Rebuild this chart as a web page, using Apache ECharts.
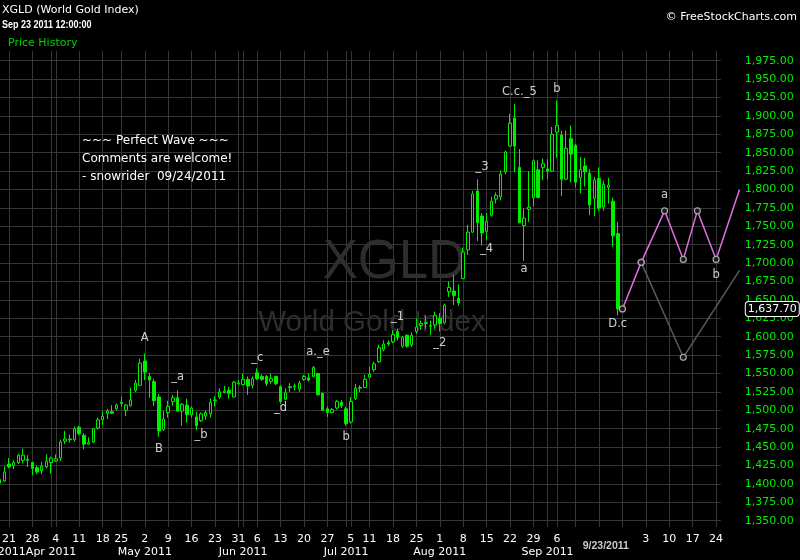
<!DOCTYPE html>
<html><head><meta charset="utf-8">
<script src="https://cdn.jsdelivr.net/npm/echarts@6/dist/echarts.min.js"></script>
<style>html,body{margin:0;padding:0;background:#000;}#c{width:800px;height:560px;}</style>
</head><body><div id="c"></div>
<script>
const tradingDays = [
'2011-03-17','2011-03-18','2011-03-21','2011-03-22','2011-03-23','2011-03-24','2011-03-25','2011-03-28','2011-03-29','2011-03-30','2011-03-31',
'2011-04-01','2011-04-04','2011-04-05','2011-04-06','2011-04-07','2011-04-08','2011-04-11','2011-04-12','2011-04-13','2011-04-14','2011-04-15','2011-04-18','2011-04-19','2011-04-20','2011-04-21','2011-04-25','2011-04-26','2011-04-27','2011-04-28','2011-04-29',
'2011-05-02','2011-05-03','2011-05-04','2011-05-05','2011-05-06','2011-05-09','2011-05-10','2011-05-11','2011-05-12','2011-05-13','2011-05-16','2011-05-17','2011-05-18','2011-05-19','2011-05-20','2011-05-23','2011-05-24','2011-05-25','2011-05-26','2011-05-27','2011-05-31',
'2011-06-01','2011-06-02','2011-06-03','2011-06-06','2011-06-07','2011-06-08','2011-06-09','2011-06-10','2011-06-13','2011-06-14','2011-06-15','2011-06-16','2011-06-17','2011-06-20','2011-06-21','2011-06-22','2011-06-23','2011-06-24','2011-06-27','2011-06-28','2011-06-29','2011-06-30',
'2011-07-01','2011-07-05','2011-07-06','2011-07-07','2011-07-08','2011-07-11','2011-07-12','2011-07-13','2011-07-14','2011-07-15','2011-07-18','2011-07-19','2011-07-20','2011-07-21','2011-07-22','2011-07-25','2011-07-26','2011-07-27','2011-07-28','2011-07-29',
'2011-08-01','2011-08-02','2011-08-03','2011-08-04','2011-08-05','2011-08-08','2011-08-09','2011-08-10','2011-08-11','2011-08-12','2011-08-15','2011-08-16','2011-08-17','2011-08-18','2011-08-19','2011-08-22','2011-08-23','2011-08-24','2011-08-25','2011-08-26','2011-08-29','2011-08-30','2011-08-31',
'2011-09-01','2011-09-02','2011-09-06','2011-09-07','2011-09-08','2011-09-09','2011-09-12','2011-09-13','2011-09-14','2011-09-15','2011-09-16','2011-09-19','2011-09-20','2011-09-21','2011-09-22','2011-09-23','2011-09-26','2011-09-27','2011-09-28','2011-09-29','2011-09-30',
'2011-10-03','2011-10-04','2011-10-05','2011-10-06','2011-10-07','2011-10-10','2011-10-11','2011-10-12','2011-10-13','2011-10-14','2011-10-17','2011-10-18','2011-10-19','2011-10-20','2011-10-21','2011-10-24','2011-10-25','2011-10-26','2011-10-27','2011-10-28','2011-10-31'
];
const axisLastDay = '2011-10-25';
const projLastDay = '2011-10-31';

// [open, close, low, high]
const candles = [
[1406,1401,1388,1408],[1404,1416,1403,1424],[1427,1423,1421,1435],[1425,1429,1420,1432],[1429,1439,1427,1441],
[1432,1439,1428,1448],[1433,1432,1423,1439],[1429,1421,1412,1430],[1422,1416,1413,1425],[1418,1424,1413,1430],
[1423,1431,1421,1440],[1429,1435,1414,1437],[1431,1434,1430,1440],[1435,1457,1431,1460],[1458,1461,1454,1472],
[1461,1460,1456,1467],[1460,1475,1457,1478],[1477,1468,1466,1479],[1466,1454,1447,1469],[1454,1456,1453,1463],
[1457,1475,1455,1476],[1476,1487,1474,1490],[1487,1492,1480,1499],[1496,1499,1488,1502],[1498,1496,1495,1507],
[1502,1507,1500,1509],[1509,1511,1505,1519],[1500,1507,1492,1509],[1506,1514,1505,1531],[1527,1537,1525,1541],
[1534,1564,1533,1570],[1567,1552,1541,1577],[1546,1541,1517,1551],[1539,1513,1506,1543],[1518,1472,1464,1522],
[1474,1488,1472,1499],[1497,1505,1490,1513],[1512,1517,1506,1521],[1517,1499,1498,1527],[1499,1508,1479,1510],
[1507,1494,1483,1516],[1494,1503,1490,1505],[1491,1479,1473,1498],[1486,1495,1484,1497],[1492,1497,1487,1500],
[1495,1511,1490,1516],[1513,1514,1505,1519],[1518,1525,1515,1530],[1524,1526,1523,1533],[1527,1523,1516,1532],
[1518,1538,1518,1540],[1536,1537,1534,1541],[1535,1542,1534,1550],[1542,1533,1521,1546],[1534,1543,1530,1546],
[1551,1543,1541,1557],[1546,1542,1540,1549],[1546,1536,1533,1548],[1539,1543,1536,1550],[1546,1536,1534,1547],
[1532,1512,1509,1534],[1515,1524,1514,1530],[1531,1532,1525,1537],[1532,1533,1527,1536],[1529,1537,1525,1540],
[1542,1546,1540,1548],[1544,1541,1539,1550],[1546,1558,1545,1560],[1550,1521,1520,1551],[1523,1500,1499,1524],
[1502,1497,1491,1505],[1497,1501,1496,1503],[1503,1512,1501,1514],[1511,1506,1503,1514],[1502,1482,1479,1505],
[1484,1512,1482,1518],[1516,1530,1514,1536],[1530,1531,1525,1534],[1531,1542,1530,1548],[1545,1549,1543,1559],
[1555,1563,1552,1566],[1566,1585,1564,1589],[1583,1590,1580,1595],[1592,1590,1587,1595],[1593,1603,1591,1609],
[1607,1599,1595,1611],[1587,1599,1585,1601],[1602,1587,1585,1603],[1589,1602,1586,1606],[1607,1613,1604,1625],
[1615,1618,1609,1622],[1619,1618,1611,1629],[1614,1615,1602,1622],[1616,1629,1611,1634],[1625,1618,1607,1632],
[1619,1643,1617,1645],[1661,1667,1654,1675],[1662,1656,1643,1684],[1652,1646,1642,1671],[1679,1715,1678,1721],
[1718,1742,1711,1752],[1742,1794,1741,1798],[1798,1755,1730,1814],[1764,1741,1724,1768],[1743,1757,1731,1768],
[1765,1784,1763,1790],[1787,1792,1781,1796],[1790,1821,1785,1826],[1824,1851,1821,1853],[1859,1890,1858,1903],
[1897,1859,1824,1916],[1830,1755,1754,1855],[1751,1761,1703,1774],[1773,1776,1756,1825],[1789,1839,1777,1841],
[1827,1789,1788,1840],[1830,1835,1813,1842],[1828,1825,1814,1841],[1825,1875,1824,1885],[1878,1887,1843,1921],
[1874,1814,1791,1880],[1814,1856,1813,1880],[1869,1848,1810,1887],[1860,1810,1803,1862],[1816,1827,1795,1844],
[1832,1824,1804,1843],[1822,1779,1765,1828],[1788,1813,1764,1817],[1815,1775,1771,1830],[1776,1807,1771,1812],
[1803,1806,1781,1816],[1784,1737,1722,1789],[1740,1637.7,1629,1756]
];

const weekLabelDays = ['2011-03-21','2011-03-28','2011-04-04','2011-04-11','2011-04-18','2011-04-25','2011-05-02','2011-05-09','2011-05-16','2011-05-23','2011-05-31','2011-06-06','2011-06-13','2011-06-20','2011-06-27','2011-07-05','2011-07-11','2011-07-18','2011-07-25','2011-08-01','2011-08-08','2011-08-15','2011-08-22','2011-08-29','2011-09-06','2011-10-03','2011-10-10','2011-10-17','2011-10-24'];
const weekGridOnlyDays = ['2011-09-12','2011-09-19','2011-09-26'];
const monthLabelDays = ['2011-03-17','2011-04-01','2011-05-02','2011-06-01','2011-07-01','2011-08-01','2011-09-01'];
const monthNames = ['Jan','Feb','Mar','Apr','May','Jun','Jul','Aug','Sep','Oct','Nov','Dec'];
const yTicks = [1350,1375,1400,1425,1450,1475,1500,1525,1550,1575,1600,1625,1650,1675,1700,1725,1750,1775,1800,1825,1850,1875,1900,1925,1950,1975];
const yMin = 1341.4, yMax = 1988.2;
const lastPrice = 1637.7;
const lastDateLabel = '9/23/2011';

const projPink = [['2011-09-26',1637.7],['2011-09-30',1701],['2011-10-07',1771],['2011-10-13',1705],['2011-10-18',1771],['2011-10-24',1705],['2011-10-31',1800]];
const projGray = [['2011-09-30',1701],['2011-10-13',1572],['2011-10-31',1690]];

const waveLabels = [
['2011-05-02',1598,'A'],['2011-05-11',1545,'_a'],['2011-05-05',1447,'B'],['2011-05-18',1466,'_b'],
['2011-06-06',1571,'_c'],['2011-06-13',1503,'_d'],['2011-06-23',1579,'a._e'],['2011-07-01',1464,'b'],
['2011-07-19',1627,'_1'],['2011-08-01',1592,'_2'],['2011-08-12',1830,'_3'],['2011-08-15',1719,'_4'],
['2011-08-25',1692,'a'],['2011-08-24',1932,'C.c._5'],['2011-09-06',1936,'b'],['2011-09-23',1617,'D.c'],
['2011-10-07',1793,'a'],['2011-10-24',1684,'b']
];

const GREEN = '#00ee00';
const GRIDC = '#363636';
const FONT = 'DejaVu Sans';
const STEP = 4.683;      // px per trading day
const LEFT = -0.4, TOP = 51, HEIGHT = 476;

const chart = echarts.init(document.getElementById('c'), null, {renderer: 'canvas'});
const weekSet = new Set(weekLabelDays);
const weekGridSet = new Set(weekLabelDays.concat(weekGridOnlyDays));
const monthSet = new Set(monthLabelDays);
const maxIdx = tradingDays.indexOf(axisLastDay);
const projMaxIdx = tradingDays.indexOf(projLastDay);

function lastNoSymbol(arr){ return arr.map((p,i)=> i===arr.length-1 ? {value:p, symbol:'none'} : {value:p}); }
const fmt2 = v => v.toLocaleString('en-US', {minimumFractionDigits: 2, maximumFractionDigits: 2});

const option = {
  backgroundColor: '#000',
  animation: false,
  textStyle: {fontFamily: FONT},
  grid: [
    {left: LEFT, top: TOP, width: STEP * maxIdx, height: HEIGHT, outerBoundsMode: 'none', containLabel: false},
    {left: LEFT, top: TOP, width: STEP * projMaxIdx, height: HEIGHT, outerBoundsMode: 'none', containLabel: false}
  ],
  xAxis: [{
    type: 'category', gridIndex: 0, data: tradingDays, boundaryGap: false, min: 0, max: maxIdx, position: 'bottom',
    axisLine: {show: false}, axisTick: {show: false},
    axisLabel: {interval: (i, v) => weekSet.has(v), formatter: v => String(parseInt(v.slice(8), 10)),
      color: '#fff', fontSize: 11, fontFamily: FONT, margin: 7},
    splitLine: {show: true, interval: (i, v) => weekGridSet.has(v), lineStyle: {color: GRIDC, width: 1}}
  },{
    type: 'category', gridIndex: 0, data: tradingDays, boundaryGap: false, min: 0, max: maxIdx, position: 'bottom',
    axisLine: {show: false}, axisTick: {show: false},
    axisLabel: {interval: (i, v) => monthSet.has(v), formatter: v => monthNames[parseInt(v.slice(5,7),10)-1] + ' ' + v.slice(0,4),
      color: '#fff', fontSize: 11, fontFamily: FONT, margin: 20},
    splitLine: {show: true, interval: (i, v) => monthSet.has(v) && i > 0, lineStyle: {color: GRIDC, width: 1}}
  },{
    type: 'category', gridIndex: 1, data: tradingDays, boundaryGap: false, min: 0, max: projMaxIdx, show: false
  }],
  yAxis: [{
    type: 'value', gridIndex: 0, position: 'right', min: yMin, max: yMax, scale: true,
    axisLine: {show: false}, axisTick: {show: false, customValues: yTicks},
    axisLabel: {customValues: yTicks, color: GREEN, fontSize: 11, fontFamily: FONT, margin: 24, formatter: fmt2},
    splitLine: {show: true, lineStyle: {color: GRIDC, width: 1}}
  },{
    type: 'value', gridIndex: 0, position: 'right', min: yMin, max: yMax, scale: true, z: 10,
    axisLine: {show: false}, axisTick: {show: false, customValues: [lastPrice]}, splitLine: {show: false},
    axisLabel: {customValues: [lastPrice], color: '#fff', fontSize: 11, fontFamily: FONT, margin: 25,
      backgroundColor: '#000', borderColor: '#fff', borderWidth: 1, borderRadius: 3, padding: [2, 2, 1, 2], formatter: fmt2}
  },{
    type: 'value', gridIndex: 1, min: yMin, max: yMax, scale: true, show: false, splitLine: {show: false}
  }],
  series: [{
    type: 'candlestick', xAxisIndex: 0, yAxisIndex: 0, data: candles, barWidth: 3,
    itemStyle: {color: '#000', color0: GREEN, borderColor: GREEN, borderColor0: GREEN, borderWidth: 1},
    emphasis: {disabled: true}
  },{
    type: 'line', xAxisIndex: 2, yAxisIndex: 2, data: lastNoSymbol(projGray), clip: false, showAllSymbol: true,
    symbol: 'circle', symbolSize: 6,
    lineStyle: {color: '#5a5a5a', width: 1.5}, itemStyle: {color: '#1a1a1a', borderColor: '#a8a8a8', borderWidth: 1.2}, z: 3
  },{
    type: 'line', xAxisIndex: 2, yAxisIndex: 2, data: lastNoSymbol(projPink), clip: false, showAllSymbol: true,
    symbol: 'circle', symbolSize: 6,
    lineStyle: {color: '#e070e0', width: 1.5}, itemStyle: {color: '#1a1a1a', borderColor: '#a8a8a8', borderWidth: 1.2}, z: 4
  },{
    type: 'scatter', xAxisIndex: 0, yAxisIndex: 0, data: waveLabels, symbolSize: 0, clip: false, z: 6,
    label: {show: true, position: 'inside', formatter: p => p.data[2], color: '#fff', fontSize: 11.5, fontFamily: FONT}
  }]
};
chart.setOption(option);

const lastPx = chart.convertToPixel({xAxisIndex: 0, yAxisIndex: 0}, ['2011-09-23', lastPrice]);
chart.setOption({graphic: [
  {type: 'text', z: 1, x: 372, y: 263, scaleX: 0.94, originX: 372, originY: 263,
    style: {text: 'XGLD', fill: '#2e2e2e', font: '56px "Liberation Sans"', textAlign: 'center', textVerticalAlign: 'middle'}},
  {type: 'text', z: 1, x: 372, y: 323,
    style: {text: 'World Gold Index', fill: '#2e2e2e', font: '29.5px "Liberation Sans"', textAlign: 'center', textVerticalAlign: 'middle'}},
  {type: 'text', z: 20, x: 2, y: 10, style: {text: 'XGLD (World Gold Index)', fill: '#fff', font: '11px "DejaVu Sans"', textVerticalAlign: 'middle'}},
  {type: 'text', z: 20, x: 2, y: 25, scaleX: 0.9, style: {text: 'Sep 23 2011 12:00:00', fill: '#fff', font: 'bold 10px "Liberation Sans"', textVerticalAlign: 'middle'}},
  {type: 'text', z: 20, x: 8, y: 43, style: {text: 'Price History', fill: '#00d200', font: '11px "DejaVu Sans"', textVerticalAlign: 'middle'}},
  {type: 'text', z: 20, x: 797, y: 17, style: {text: '\u00a9 FreeStockCharts.com', fill: '#fff', font: '11px "DejaVu Sans"', textAlign: 'right', textVerticalAlign: 'middle'}},
  {type: 'text', z: 20, x: 82, y: 141, style: {text: '~~~ Perfect Wave ~~~', fill: '#fff', font: '12px "DejaVu Sans"', textVerticalAlign: 'middle'}},
  {type: 'text', z: 20, x: 82, y: 159, style: {text: 'Comments are welcome!', fill: '#fff', font: '12px "DejaVu Sans"', textVerticalAlign: 'middle'}},
  {type: 'text', z: 20, x: 82, y: 177, style: {text: '- snowrider  09/24/2011', fill: '#fff', font: '12px "DejaVu Sans"', textVerticalAlign: 'middle'}},
  {type: 'text', z: 20, x: lastPx[0] - 12, y: 546, style: {text: lastDateLabel, fill: '#cccccc', font: 'bold 10.5px "Liberation Sans"', textAlign: 'center', textVerticalAlign: 'middle'}}
]});
</script></body></html>
